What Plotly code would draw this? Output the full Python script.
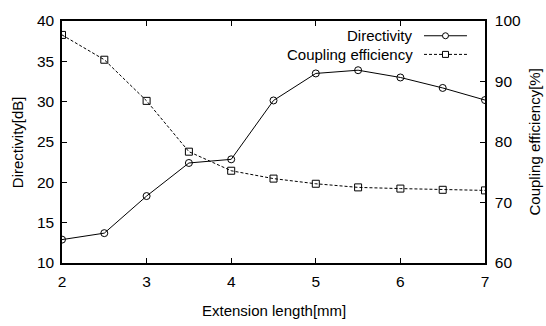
import plotly.graph_objects as go

ext_length = [2, 2.5, 3, 3.5, 4, 4.5, 5, 5.5, 6, 6.5, 7]
directivity = [12.9, 13.7, 18.3, 22.4, 22.85, 30.15, 33.5, 33.9, 33.0, 31.7, 30.2]
coupling = [97.7, 93.6, 86.8, 78.4, 75.25, 73.95, 73.1, 72.5, 72.3, 72.1, 72.0]

x_ticks = [2, 3, 4, 5, 6, 7]
y_ticks = [10, 15, 20, 25, 30, 35, 40]
y2_ticks = [60, 70, 80, 90, 100]

FONT = "Liberation Sans, Arial, Helvetica, sans-serif"

fig = go.Figure()
fig.add_trace(go.Scatter(
    x=ext_length, y=directivity, name="Directivity", mode="lines+markers",
    line=dict(color="black", width=1),
    marker=dict(symbol="circle-open", size=7, color="black", line=dict(width=1)),
    yaxis="y", showlegend=False))
fig.add_trace(go.Scatter(
    x=ext_length, y=coupling, name="Coupling efficiency", mode="lines+markers",
    line=dict(color="black", width=1, dash="3px,2px"),
    marker=dict(symbol="square-open", size=7, color="black", line=dict(width=1)),
    yaxis="y2", showlegend=False))

axis_common = dict(showgrid=False, zeroline=False, linecolor="black", linewidth=1.5,
                   ticks="inside", ticklen=5, tickwidth=1, tickcolor="black",
                   tickfont=dict(family=FONT, size=15.5, color="black"))

fig.update_layout(
    width=546, height=326,
    margin=dict(l=62, r=61, t=17, b=63),
    paper_bgcolor="white", plot_bgcolor="white",
    font=dict(family=FONT, size=15, color="black"),
    xaxis=dict(range=[2, 7], tickvals=x_ticks, showline=True, mirror="ticks",
               ticklabelstandoff=4, **axis_common),
    yaxis=dict(range=[10, 40], tickvals=y_ticks, showline=True, mirror=True,
               ticklabelstandoff=3, **axis_common),
    yaxis2=dict(range=[60, 100], tickvals=y2_ticks, overlaying="y", side="right",
                showline=True, ticklabelstandoff=5, **axis_common),
)

# axis titles
fig.add_annotation(text="Extension length[mm]", xref="paper", yref="paper",
                   x=0.5, y=-0.195, showarrow=False, yanchor="middle",
                   font=dict(size=15, family=FONT))
fig.add_annotation(text="Directivity[dB]", xref="paper", yref="paper",
                   x=-0.106, y=0.5, showarrow=False, textangle=-90, xanchor="center",
                   font=dict(size=15, family=FONT))
fig.add_annotation(text="Coupling efficiency[%]", xref="paper", yref="paper",
                   x=1.117, y=0.5, showarrow=False, textangle=-90, xanchor="center",
                   font=dict(size=15, family=FONT))

# custom gnuplot-style legend (text, then sample)
leg_rows = [("Directivity", 0.939, "solid", "circle"),
            ("Coupling efficiency", 0.862, "3px,2px", "square")]
for label, yp, dash, sym in leg_rows:
    fig.add_annotation(text=label, xref="paper", yref="paper", x=0.8345, y=yp,
                       xanchor="right", yanchor="middle", showarrow=False,
                       font=dict(size=15, family=FONT))
    fig.add_shape(type="line", xref="paper", yref="paper", x0=0.8558, x1=0.9574,
                  y0=yp, y1=yp, line=dict(color="black", width=1, dash=dash))
    fig.add_shape(type="circle" if sym == "circle" else "rect", xref="paper", yref="paper",
                  xsizemode="pixel", ysizemode="pixel", xanchor=0.9066, yanchor=yp,
                  x0=-3, x1=3, y0=-3, y1=3, line=dict(color="black", width=1),
                  fillcolor="white")

fig.write_html("out.html")
